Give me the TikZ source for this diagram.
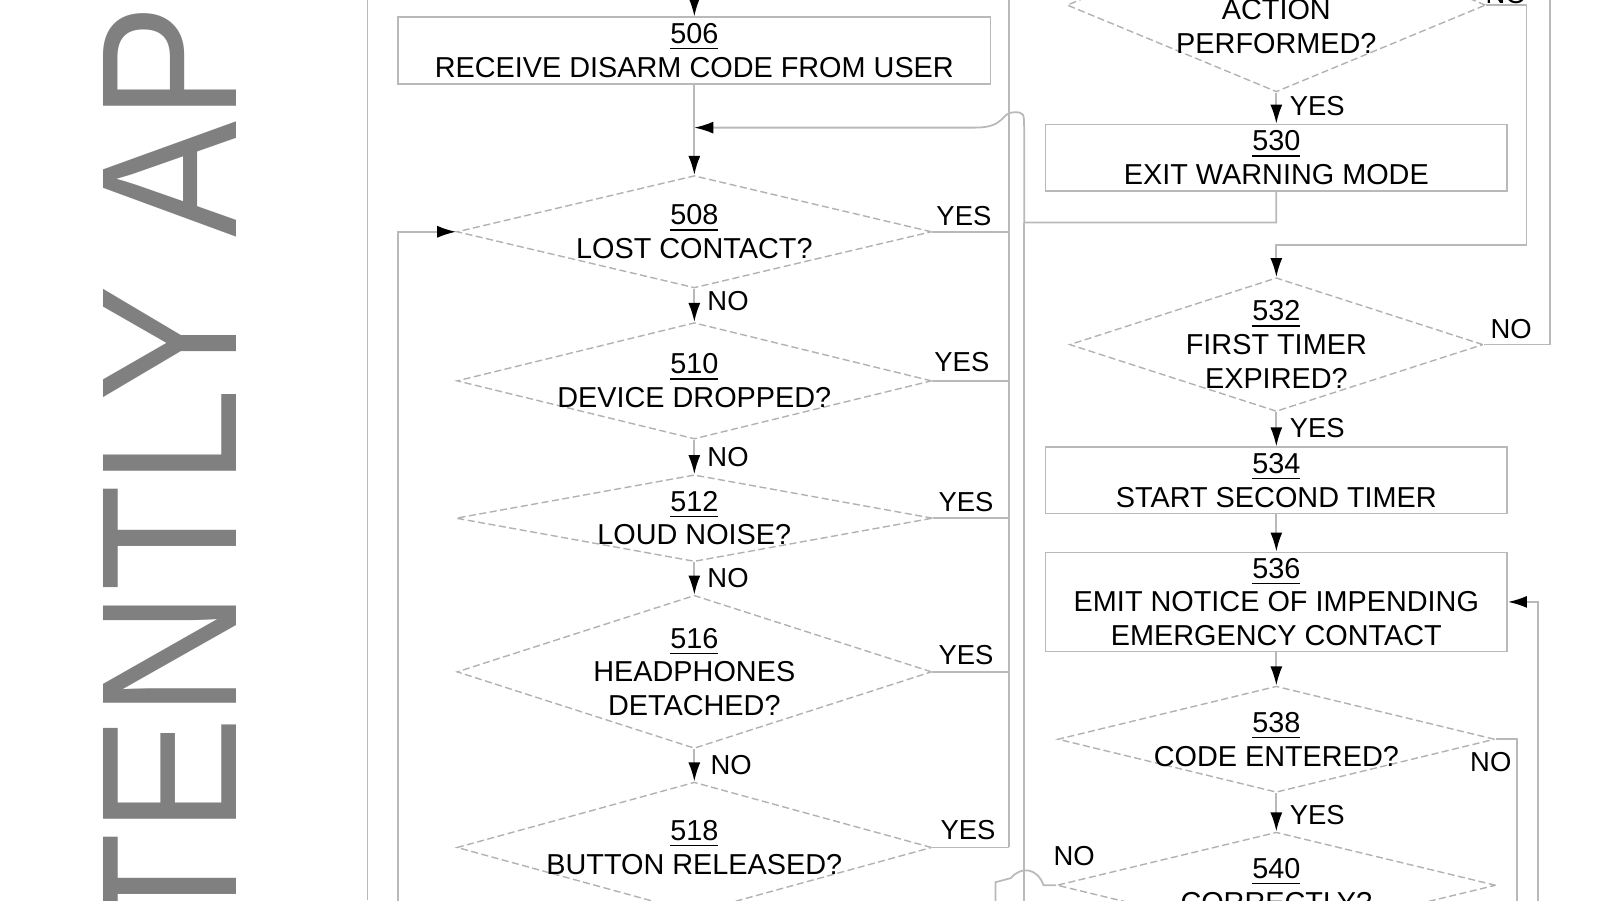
\documentclass[tikz,border=0pt]{standalone}
\usepackage{fontspec}
\setmainfont{Liberation Sans}
\usetikzlibrary{shapes.geometric,arrows.meta}
\def\u{0.01021cm}
\tikzset{
  line/.style={draw=gray!55, line width=0.5pt},
  arr/.style={line, -{Latex[length=1.9mm,width=1.2mm,color=black]}},
  box/.style={rectangle, draw=gray!55, line width=0.5pt, inner sep=0pt},
  dia/.style={diamond, draw=gray!60, dashed, dash pattern=on 2pt off 1pt, inner sep=0pt},
  txt/.style={align=center, inner sep=0pt, font=\fontsize{8.2}{9.6}\selectfont},
  lbl/.style={inner sep=0pt, font=\fontsize{7.8}{9}\selectfont}
}
\begin{document}
\begin{tikzpicture}[x=\u, y=-\u]
    \useasboundingbox (0,0) rectangle (1567,881.5);
    \clip (0,0) rectangle (1567,881.5);

    % margin text and frame line
    \node[rotate=90, anchor=base east, inner sep=0pt, text=gray,
          font=\fontsize{55}{55}\selectfont] (margin) at (232,4) {\scalebox{0.9}[1]{TENTLY AP}};
    \draw[line] (360,0) -- (360,881.5);

    % left column
    \node[box, minimum width=580*\u, minimum height=65*\u] (b506) at (680,49.5) {};
    \node[txt] at (b506) {\underline{506}\\RECEIVE DISARM CODE FROM USER};
    \node[dia, minimum width=465*\u, minimum height=110*\u] (d508) at (680,227) {};
    \node[txt] at (d508) {\underline{508}\\LOST CONTACT?};
    \node[dia, minimum width=465*\u, minimum height=114*\u] (d510) at (680,373) {};
    \node[txt] at (d510) {\underline{510}\\DEVICE DROPPED?};
    \node[dia, minimum width=467*\u, minimum height=85*\u] (d512) at (680,507.5) {};
    \node[txt] at (d512) {\underline{512}\\LOUD NOISE?};
    \node[dia, minimum width=465*\u, minimum height=150*\u] (d516) at (680,658) {};
    \node[txt] at (d516) {\underline{516}\\HEADPHONES\\DETACHED?};
    \node[dia, minimum width=465*\u, minimum height=128*\u] (d518) at (680,830) {};
    \node[txt] at (d518) {\underline{518}\\BUTTON RELEASED?};

    % right column
    \node[dia, minimum width=410*\u, minimum height=170*\u] (d528) at (1250,5) {};
    \node[txt] at (1250,26) {ACTION\\PERFORMED?};
    \node[box, minimum width=452*\u, minimum height=65*\u] (b530) at (1250,154.5) {};
    \node[txt] at (b530) {\underline{530}\\EXIT WARNING MODE};
    \node[dia, minimum width=405*\u, minimum height=131*\u] (d532) at (1250,337.5) {};
    \node[txt] at (d532) {\underline{532}\\FIRST TIMER\\EXPIRED?};
    \node[box, minimum width=452*\u, minimum height=65*\u] (b534) at (1250,470.5) {};
    \node[txt] at (b534) {\underline{534}\\START SECOND TIMER};
    \node[box, minimum width=452*\u, minimum height=97*\u] (b536) at (1250,589.5) {};
    \node[txt] at (b536) {\underline{536}\\EMIT NOTICE OF IMPENDING\\EMERGENCY CONTACT};
    \node[dia, minimum width=428*\u, minimum height=104*\u] (d538) at (1250,724) {};
    \node[txt] at (d538) {\underline{538}\\CODE ENTERED?};
    \node[dia, minimum width=430*\u, minimum height=104*\u] (d540) at (1250,867) {};
    \node[txt] at (d540) {\underline{540}\\CORRECTLY?};

    % free ends
    \coordinate (in506) at (680,0);
    \coordinate (m508) at (680,125);
    \coordinate (v1) at (988,0);
    \coordinate (v1end) at (988,830);
    \coordinate (j530) at (1003,218);
    \coordinate (v2end) at (1003,885);
    \coordinate (loop) at (390,885);
    \coordinate (o532) at (1518,0);
    \coordinate (o538) at (1486,885);
    \coordinate (i536) at (1506,885);
    \coordinate (o540) at (975,885);

    % left column connectors
    \draw[arr] (in506) -- (b506.north);
    \draw[arr] (b506.south) -- (d508.north);
    \draw[arr] (d508.south) -- (d510.north);
    \draw[arr] (d510.south) -- (d512.north);
    \draw[arr] (d512.south) -- (d516.north);
    \draw[arr] (d516.south) -- (d518.north);
    \draw[arr] (loop) |- (d508.west);
    \draw[line] (v1) -- (v1end);
    \foreach \d in {d508,d510,d512,d516,d518}
        \draw[line] (\d.east) -- (\d.east -| v1);

    % return from 530
    \draw[arr] (b530.south) |- (j530) -- (1003,128) .. controls (1003,110) .. (993,110)
        .. controls (980,110) and (985,125) .. (955,125) -- (m508);
    \draw[line] (j530) -- (v2end);

    % right column connectors
    \draw[arr] (d528.south) -- (b530.north);
    \draw[arr] (d528.east) -| (1495,240) -| (d532.north);
    \draw[arr] (d532.south) -- (b534.north);
    \draw[line] (d532.east) -| (o532);
    \draw[arr] (b534.south) -- (b536.north);
    \draw[arr] (b536.south) -- (d538.north);
    \draw[line] (d538.east) -| (o538);
    \draw[arr] (i536) |- (b536.east);
    \draw[arr] (d538.south) -- (d540.north);
    \draw[line] (d540.west) -- (1022,867) .. controls (1016,850) and (1000,848) .. (990,860)
        -- (975,864) -- (o540);

    % labels
    \node[lbl] (y508) at (944,212) {YES};
    \node[lbl] (y510) at (942,355) {YES};
    \node[lbl] (y512) at (946,492) {YES};
    \node[lbl] (y516) at (946,642) {YES};
    \node[lbl] (y518) at (948,813) {YES};
    \node[lbl] (n508) at (713,295) {NO};
    \node[lbl] (n510) at (713,448) {NO};
    \node[lbl] (n512) at (713,566) {NO};
    \node[lbl] (n516) at (716,749) {NO};
    \node[lbl] (n528) at (1475,-6) {NO};
    \node[lbl] (y528) at (1290,104) {YES};
    \node[lbl] (n532) at (1480,322) {NO};
    \node[lbl] (y532) at (1290,419) {YES};
    \node[lbl] (n538) at (1460,746) {NO};
    \node[lbl] (y538) at (1290,798) {YES};
    \node[lbl] (n540) at (1052,838) {NO};
\end{tikzpicture}
\end{document}
